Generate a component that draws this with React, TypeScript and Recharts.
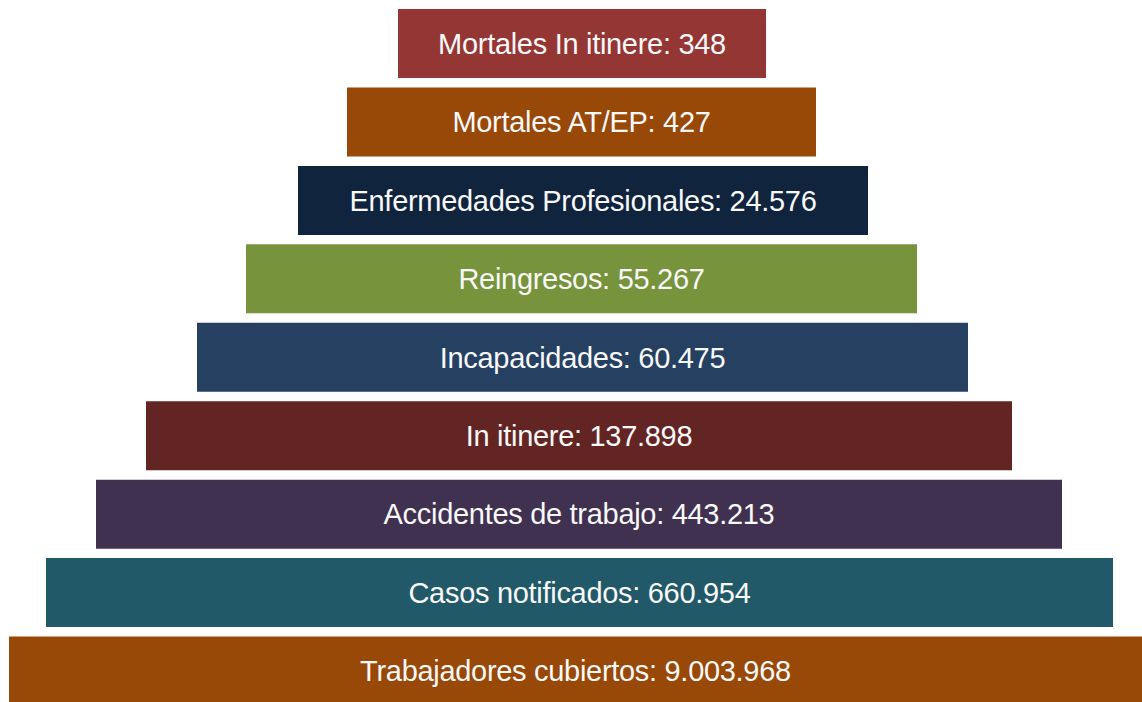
import React from "react";
import { BarChart, Bar, XAxis, YAxis, Cell, LabelList } from "recharts";

const categories = [
  "Mortales In itinere",
  "Mortales AT/EP",
  "Enfermedades Profesionales",
  "Reingresos",
  "Incapacidades",
  "In itinere",
  "Accidentes de trabajo",
  "Casos notificados",
  "Trabajadores cubiertos",
];
const valueLabels = ["348", "427", "24.576", "55.267", "60.475", "137.898", "443.213", "660.954", "9.003.968"];
// pyramid levels: start and length of each step (display units)
const levelStarts = [398, 347, 298, 246, 197, 146, 96, 46, 9];
const levelLengths = [368, 469, 570, 671, 771, 866, 966, 1067, 1146];
const colors = ["#943634", "#984807", "#10243E", "#77933C", "#254061", "#632523", "#403151", "#215968", "#984807"];

const data = categories.map((name, i) => ({
  name,
  label: `${name}: ${valueLabels[i]}`,
  offset: levelStarts[i],
  length: levelLengths[i],
}));

export default function App() {
  return (
    <div style={{ position: "absolute", left: 0, top: 0, width: 1142, height: 702, overflow: "hidden", background: "#fff" }}>
      <BarChart
        width={1142}
        height={710}
        data={data}
        layout="vertical"
        margin={{ top: 4, right: 0, bottom: 0, left: 0 }}
      >
        <XAxis type="number" hide domain={[0, 1142]} allowDataOverflow />
        <YAxis type="category" dataKey="name" hide />
        <Bar dataKey="offset" stackId="a" fill="transparent" barSize={69} isAnimationActive={false} />
        <Bar dataKey="length" stackId="a" barSize={69} isAnimationActive={false}>
          {data.map((d, i) => (
            <Cell key={i} fill={colors[i]} />
          ))}
          <LabelList
            dataKey="label"
            position="center"
            fill="#f8f8f8"
            style={{ fontFamily: "Liberation Sans, Arial, sans-serif", fontSize: 29, letterSpacing: -0.3 }}
          />
        </Bar>
      </BarChart>
    </div>
  );
}
